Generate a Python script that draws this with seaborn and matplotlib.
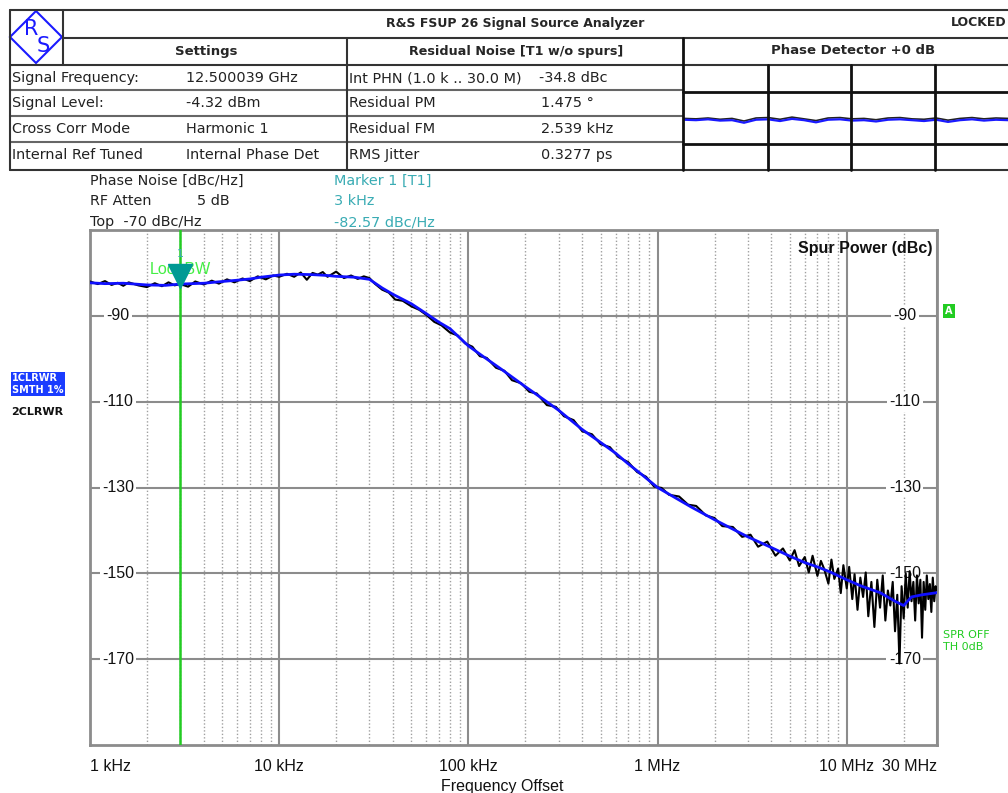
import numpy as np
import pandas as pd
import seaborn as sns
import matplotlib.pyplot as plt
import matplotlib.transforms as mtransforms
from matplotlib.lines import Line2D
from matplotlib.patches import Polygon

# ---- data ----
# smoothed trace (blue), offset frequency in kHz, level in dBc/Hz
smooth_khz = [1, 1.2, 1.5, 2, 2.5, 3, 4, 5, 6, 7, 8, 10, 12, 15, 18, 20, 25, 30, 35, 40,
              50, 60, 70, 80, 100, 120, 150, 200, 250, 300, 400, 500, 600, 700, 800,
              1000, 1500, 2000, 3000, 4000, 5000, 6000, 7000, 8000, 10000, 12000,
              15000, 18000, 20000, 22000, 25000, 30000]
smooth_dbc = [-82.3, -82.5, -82.4, -82.8, -82.9, -82.6, -82.4, -82.0, -81.7, -81.4, -81.0,
              -80.5, -80.3, -80.4, -80.6, -80.8, -81.0, -81.5, -83.5, -85.0,
              -87.2, -89.5, -91.5, -93.0, -97.0, -99.5, -102.5, -106.5, -109.5, -112.0,
              -116.5, -119.5, -122.0, -124.5, -126.5,
              -130.0, -134.5, -137.5, -141.5, -144.0, -146.0, -147.5, -148.5, -149.5,
              -151.5, -153.0, -154.5, -156.5, -157.5, -155.5, -155.0, -154.5]

# raw trace (black), offset frequency in kHz
raw_khz = [1, 1.1, 1.2, 1.3, 1.4, 1.5, 1.6, 1.8, 2, 2.2, 2.4, 2.6, 2.8, 3, 3.3, 3.6, 4, 4.4,
           4.8, 5.3, 5.8, 6.4, 7, 7.7, 8.5, 9.3, 10,
           11, 12, 13, 14, 15, 16, 17, 18, 19, 20, 22, 24, 26, 28, 30, 32, 35, 38, 41, 45,
           50, 55, 60, 66, 72, 80, 88, 96,
           105, 115, 125, 140, 155, 170, 190, 210, 230, 260, 290, 320, 360, 400, 450, 500,
           560, 620, 700, 780, 870, 960,
           1050, 1150, 1300, 1450, 1600, 1800, 2000, 2200, 2500, 2800, 3100, 3400, 3800,
           4200, 4600, 5000, 5300, 5600, 6000, 6300, 6600, 7000, 7300, 7600, 8000, 8300,
           8600, 9000, 9300, 9600, 10000,
           10300, 10700, 11000, 11400, 11800, 12200, 12600, 13000, 13500, 14000, 14500,
           15000, 15500, 16000, 16500, 17000, 17500, 18000, 18500, 19000, 19500, 20000,
           20500, 21000, 21500, 22000, 22500, 23000, 23500, 24000, 24500, 25000, 25500,
           26000, 26500, 27000, 27500, 28000, 28500, 29000, 29500, 30000]
raw_dbc = [-82.0, -82.6, -81.9, -82.8, -82.3, -83.0, -82.2, -82.9, -83.3, -82.4, -83.1,
           -82.2, -82.9, -82.6, -83.2, -82.0, -82.7, -81.8, -82.5, -81.5, -82.2, -81.3,
           -81.9, -80.8, -81.5, -80.6, -80.9,
           -80.2, -80.9, -79.9, -81.6, -80.0, -80.4, -79.8, -80.9, -80.3, -79.7, -81.2,
           -80.6, -81.4, -80.8, -81.2, -82.5, -83.9, -84.6, -86.2, -86.5, -87.8, -88.6,
           -89.8, -91.4, -92.2, -93.9, -94.6, -96.4,
           -97.2, -99.4, -99.8, -102.1, -102.8, -105.0, -105.7, -107.7, -108.1, -110.8,
           -111.2, -113.4, -114.3, -116.9, -117.6, -119.9, -120.6, -122.9, -124.1, -126.4,
           -127.5, -129.8,
           -130.1, -131.7, -132.1, -134.0, -134.3, -136.5, -137.1, -139.0, -139.2, -141.5,
           -141.0, -143.8, -142.6, -145.9, -144.2, -147.0, -144.6, -148.3, -146.2, -149.8,
           -145.9, -150.6, -147.1, -149.0, -152.4, -146.8, -151.3, -148.9, -154.6, -148.1,
           -153.5,
           -148.5, -156.0, -150.2, -158.5, -151.0, -155.5, -149.8, -160.0, -152.0, -162.5,
           -151.5, -158.0, -150.5, -161.0, -154.0, -157.5, -152.0, -163.5, -155.0, -171.0,
           -153.0, -160.5, -150.0, -158.0, -149.5, -156.5, -152.0, -161.0, -150.5, -157.0,
           -151.5, -165.0, -152.0, -158.5, -150.5, -156.0, -152.5, -159.0, -151.0, -156.5,
           -153.0, -154.0]

# phase detector mini trace
det_blue = [0.1, 0.0, 0.2, -0.1, 0.0, -0.6, 0.1, 0.2, -0.2, 0.3, 0.0, -0.5, 0.1, 0.2,
            -0.1, 0.0, -0.3, 0.1, 0.2, 0.0, -0.2, 0.1, -0.4, 0.0, 0.2, -0.1, 0.1, 0.0]
det_black = [0.4, 0.3, 0.5, 0.2, 0.4, -0.2, 0.5, 0.6, 0.2, 0.7, 0.3, -0.1, 0.5, 0.6,
             0.3, 0.4, 0.1, 0.5, 0.6, 0.3, 0.2, 0.5, 0.0, 0.4, 0.6, 0.3, 0.5, 0.4]

y_ticks = [-90, -110, -130, -150, -170]
x_major = [1e3, 1e4, 1e5, 1e6, 1e7, 3e7]
x_major_labels = ["1 kHz", "10 kHz", "100 kHz", "1 MHz", "10 MHz", "30 MHz"]
marker_khz = 3
marker_dbc = -82.57

settings_rows = [("Signal Frequency:", "12.500039 GHz"), ("Signal Level:", "-4.32 dBm"),
                 ("Cross Corr Mode", "Harmonic 1"), ("Internal Ref Tuned", "Internal Phase Det")]
residual_rows = [("Int PHN (1.0 k .. 30.0 M)", "-34.8 dBc"), ("Residual PM", "1.475 °"),
                 ("Residual FM", "2.539 kHz"), ("RMS Jitter", "0.3277 ps")]

smooth = pd.DataFrame({"freq": np.array(smooth_khz) * 1e3, "level": smooth_dbc})
raw = pd.DataFrame({"freq": np.array(raw_khz) * 1e3, "level": raw_dbc})

sns.set_style("white")
plt.rcParams["font.family"] = ["DejaVu Sans"]

W, H = 1008, 793
fig = plt.figure(figsize=(W / 100, H / 100), dpi=100)


def fx(x):
    return x / W


def fy(y):
    return 1 - y / H


def hline(y, x0, x1, color="#333333", lw=1.5):
    fig.add_artist(Line2D([fx(x0), fx(x1)], [fy(y), fy(y)], color=color, lw=lw))


def vline(x, y0, y1, color="#333333", lw=1.5):
    fig.add_artist(Line2D([fx(x), fx(x)], [fy(y0), fy(y1)], color=color, lw=lw))


# ---- header table ----
hline(10, 10, 1008)
hline(38, 63, 1008)
hline(65, 10, 1008)
for y in [90, 116, 142]:
    hline(y, 10, 683, color="#666666")
hline(170, 10, 1008)
vline(10, 10, 170)
vline(63, 10, 65)
vline(347, 38, 170)
vline(683, 38, 170, color="#111111", lw=2)
for y in [92, 144]:
    hline(y, 683, 1008, color="#111111", lw=2)
for x in [768, 851, 935]:
    vline(x, 65, 170, color="#111111", lw=2)

# logo
fig.add_artist(Polygon([(fx(36), fy(11)), (fx(62), fy(37)), (fx(36), fy(63)), (fx(10), fy(37))],
                       closed=True, fill=False, edgecolor="#1a1aff", lw=1.5,
                       transform=fig.transFigure))
fig.text(fx(31), fy(29), "R", color="#1a1aff", fontsize=15, ha="center", va="center")
fig.text(fx(43), fy(46), "S", color="#1a1aff", fontsize=15, ha="center", va="center")

fig.text(fx(515), fy(23), "R&S FSUP 26 Signal Source Analyzer", fontsize=9,
         fontweight="bold", ha="center", va="center")
fig.text(fx(1006), fy(23), "LOCKED", fontsize=9, fontweight="bold", ha="right", va="center")
fig.text(fx(206), fy(51), "Settings", fontsize=9.5, fontweight="bold", ha="center", va="center")
fig.text(fx(516), fy(51), "Residual Noise [T1 w/o spurs]", fontsize=9.2, fontweight="bold",
         ha="center", va="center")
fig.text(fx(853), fy(51), "Phase Detector +0 dB", fontsize=9.5, fontweight="bold",
         ha="center", va="center")

row_y = [78, 103, 129, 155]
for (lab, val), y in zip(settings_rows, row_y):
    fig.text(fx(12), fy(y), lab, fontsize=10.4, ha="left", va="center", color="#222222")
    fig.text(fx(186), fy(y), val, fontsize=10.4, ha="left", va="center", color="#222222")
for i, ((lab, val), y) in enumerate(zip(residual_rows, row_y)):
    fig.text(fx(349), fy(y), lab, fontsize=10.4, ha="left", va="center", color="#222222")
    fig.text(fx(539 if i == 0 else 541), fy(y), val, fontsize=10.4, ha="left", va="center",
             color="#222222")

# phase detector mini trace
dax = fig.add_axes([fx(684), fy(144), fx(1008) - fx(684), (144 - 92) / H])
dax.set_axis_off()
det = pd.DataFrame({"i": np.arange(len(det_blue)), "blue": det_blue, "black": det_black})
sns.lineplot(data=det, x="i", y="black", ax=dax, color="#222222", lw=1.2)
sns.lineplot(data=det, x="i", y="blue", ax=dax, color="#1a1aff", lw=1.6)
dax.set_xlim(0, len(det_blue) - 1)
dax.set_ylim(-5.5, 6.5)

# ---- labels above the plot ----
for txt, y in [("Phase Noise [dBc/Hz]", 181), ("RF Atten", 201), ("Top  -70 dBc/Hz", 222)]:
    fig.text(fx(90), fy(y), txt, fontsize=10.4, ha="left", va="center", color="#222222")
fig.text(fx(197), fy(201), "5 dB", fontsize=10.4, ha="left", va="center", color="#222222")
teal = "#3aacb4"
for txt, y in [("Marker 1 [T1]", 181), ("3 kHz", 201), ("-82.57 dBc/Hz", 222)]:
    fig.text(fx(334), fy(y), txt, fontsize=10.4, ha="left", va="center", color=teal)

# trace labels on the left
fig.text(fx(12), fy(384), "1CLRWR\nSMTH 1%", fontsize=7, fontweight="bold", color="white",
         ha="left", va="center", linespacing=1.15,
         bbox=dict(boxstyle="square,pad=0.15", fc="#1a3cff", ec="none"))
fig.text(fx(11), fy(412), "2CLRWR", fontsize=8, fontweight="bold", color="#111111",
         ha="left", va="center")

# right side labels
fig.text(fx(949), fy(311), "A", fontsize=7, fontweight="bold", color="white", ha="center",
         va="center", bbox=dict(boxstyle="square,pad=0.2", fc="#22cc22", ec="none"))
fig.text(fx(943), fy(641), "SPR OFF\nTH 0dB", fontsize=8, color="#22cc22", ha="left",
         va="center", linespacing=1.3)

# ---- main plot ----
ax = fig.add_axes([fx(90), fy(745), fx(937) - fx(90), (745 - 230) / H])
sns.lineplot(data=raw, x="freq", y="level", ax=ax, color="black", lw=1.5, zorder=3)
sns.lineplot(data=smooth, x="freq", y="level", ax=ax, color="#1010ff", lw=2.0, zorder=4)
ax.set_xscale("log")
ax.set_xlim(1e3, 3e7)
ax.set_ylim(-190, -70)

minor = [m * d for d in [1e3, 1e4, 1e5, 1e6] for m in range(2, 10)] + [2e7]
ax.set_xticks(x_major)
ax.set_xticks(minor, minor=True)
ax.set_xticklabels([])
ax.set_yticks(y_ticks)
ax.set_yticklabels([])
ax.tick_params(which="both", length=0)
ax.grid(True, which="major", color="#8c8c8c", lw=1.5, ls="-")
ax.grid(True, which="minor", axis="x", color="#a0a0a0", lw=1.0, ls=(0, (1, 1.5)))
ax.set_axisbelow(True)
for s in ax.spines.values():
    s.set_color("#8c8c8c")
    s.set_linewidth(2)
ax.set_xlabel("")
ax.set_ylabel("")

lab_font = dict(family=["Liberation Sans", "DejaVu Sans"], fontsize=11.5, color="#111111")
for v in y_ticks:
    for xa in [0.033, 0.962]:
        ax.text(xa, v, str(v), transform=ax.get_yaxis_transform(), ha="center", va="center",
                bbox=dict(boxstyle="square,pad=0.15", fc="white", ec="none"), zorder=2,
                **lab_font)

xt = mtransforms.blended_transform_factory(ax.transData, ax.transAxes)
for i, (f, lab) in enumerate(zip(x_major, x_major_labels)):
    ha = "left" if i == 0 else ("right" if i == len(x_major) - 1 else "center")
    ax.text(f, -0.041, lab, transform=xt, ha=ha, va="center", **lab_font)
fig.text(fx(502), fy(787), "Frequency Offset", ha="center", va="center",
         family=["Liberation Sans", "DejaVu Sans"], fontsize=11.5, color="#111111")
ax.text(0.995, 0.965, "Spur Power (dBc)", transform=ax.transAxes, ha="right", va="center",
        family=["Liberation Sans", "DejaVu Sans"], fontsize=11.5, fontweight="bold",
        color="#111111")

# loop bandwidth line and marker
ax.axvline(marker_khz * 1e3, color="#22cc22", lw=1.8, zorder=5)
ax.text(marker_khz * 1e3, -79.2, "LoopBW", ha="center", va="center", zorder=6,
        family=["Liberation Sans", "DejaVu Sans"], fontsize=11.5, color="#44ee44")
tri = mtransforms.offset_copy(ax.transData, fig=fig, x=0, y=8, units="dots")
ax.plot([marker_khz * 1e3], [marker_dbc], marker="v", ms=17, color="#009a94",
        transform=tri, zorder=7, ls="none")
ax.text(marker_khz * 1e3, -75.5, "1", ha="center", va="center", color=teal, fontsize=8,
        zorder=7)

fig.savefig("out.png", dpi=100)
